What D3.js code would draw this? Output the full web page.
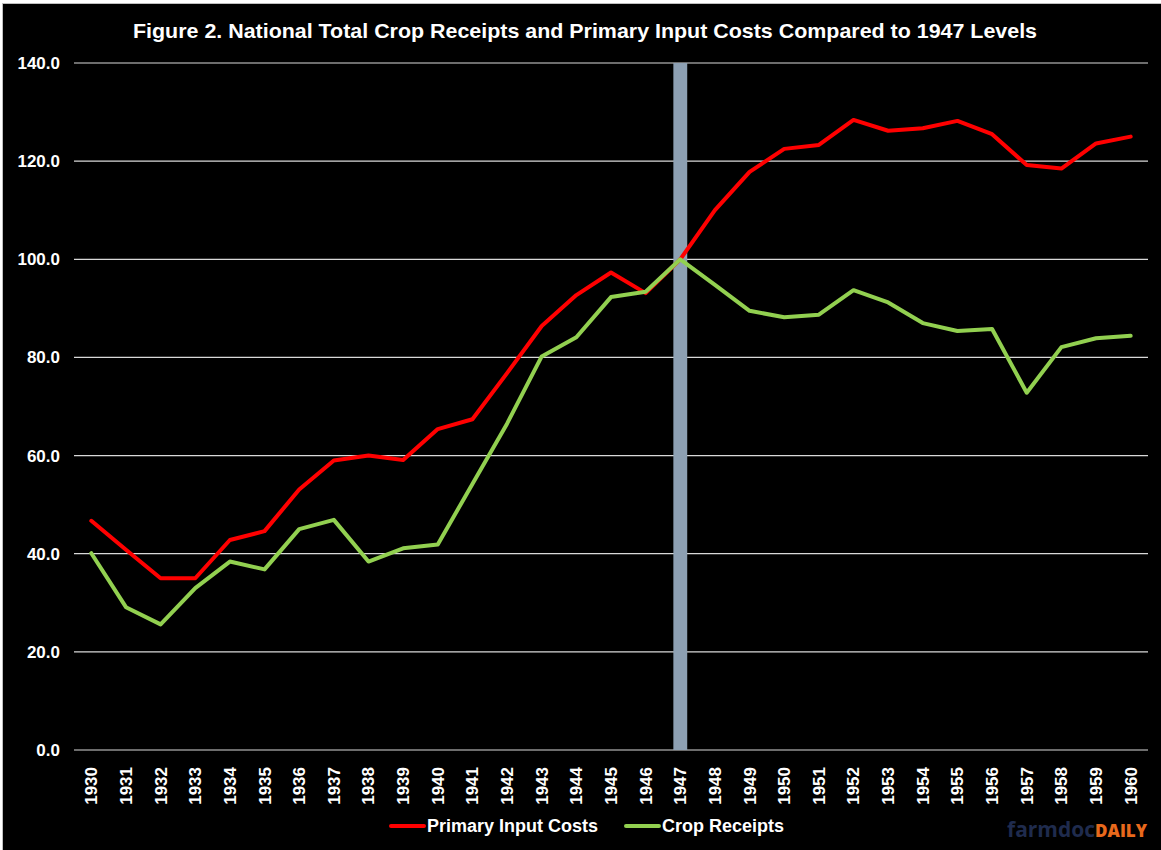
<!DOCTYPE html>
<html>
<head>
<meta charset="utf-8">
<script src="https://cdn.jsdelivr.net/npm/d3@7"></script>
<style>
  body { margin: 0; background: #fff; }
  svg { display: block; font-family: "Liberation Sans", Arial, sans-serif; }
</style>
</head>
<body>
<svg id="chart" width="1161" height="850"></svg>
<script>
const years = d3.range(1930, 1961).map(String);
const inputCosts = [46.7, 40.8, 35.0, 35.0, 42.8, 44.6, 53.1, 59.0, 60.0, 59.1,
  65.4, 67.4, 76.8, 86.4, 92.7, 97.3, 93.1, 100.0, 110.0, 117.8,
  122.5, 123.3, 128.4, 126.2, 126.7, 128.2, 125.5, 119.2, 118.5, 123.6, 125.0];
const cropReceipts = [40.1, 29.1, 25.6, 33.0, 38.4, 36.8, 45.0, 46.9, 38.4, 41.1,
  41.9, 54.2, 66.5, 80.2, 84.1, 92.3, 93.4, 100.0, 94.8, 89.5,
  88.2, 88.7, 93.7, 91.2, 87.0, 85.4, 85.8, 72.8, 82.1, 83.9, 84.4];
const yTicks = [0, 20, 40, 60, 80, 100, 120, 140];
const baseYear = '1947';

const width = 1161, height = 850;
const margin = { top: 63, right: 13, bottom: 100, left: 74 };

const svg = d3.select('#chart');

/* background frame */
svg.append('rect')
  .attr('x', 2.5).attr('y', 3.5)
  .attr('width', width).attr('height', height)
  .attr('fill', '#000')
  .attr('stroke', '#bfbfbf')
  .attr('stroke-width', 1);

const x = d3.scaleBand()
  .domain(years)
  .range([margin.left, width - margin.right]);

const y = d3.scaleLinear()
  .domain([0, 140])
  .range([height - margin.bottom, margin.top]);

/* title */
svg.append('text')
  .attr('x', 133)
  .attr('y', 38)
  .attr('fill', '#fff')
  .attr('textLength', 904)
  .attr('lengthAdjust', 'spacingAndGlyphs')
  .style('font-size', '20.5px')
  .style('font-weight', 'bold')
  .text('Figure 2. National Total Crop Receipts and Primary Input Costs Compared to 1947 Levels');

/* gridlines */
svg.append('g')
  .selectAll('line')
  .data(yTicks).enter()
  .append('line')
  .attr('x1', margin.left)
  .attr('x2', width - margin.right)
  .attr('y1', d => y(d))
  .attr('y2', d => y(d))
  .attr('stroke', '#d9d9d9')
  .attr('stroke-width', 1.2);

/* 1947 bar */
const barW = x.bandwidth() * 0.4;
svg.append('rect')
  .attr('x', x(baseYear) + (x.bandwidth() - barW) / 2)
  .attr('y', y(140))
  .attr('width', barW)
  .attr('height', y(0) - y(140))
  .attr('fill', '#8da0b3');

/* y axis */
const yAxis = d3.axisLeft(y)
  .tickValues(yTicks)
  .tickFormat(d3.format('.1f'))
  .tickSize(0)
  .tickPadding(14);
const yG = svg.append('g')
  .attr('transform', `translate(${margin.left}, 0)`)
  .call(yAxis);
yG.select('.domain').remove();
yG.selectAll('text')
  .attr('fill', '#fff')
  .style('font-size', '17px')
  .style('font-weight', 'bold')
  .style('font-family', '"Liberation Sans", Arial, sans-serif');

/* x axis */
const xAxis = d3.axisBottom(x).tickSize(0);
const xG = svg.append('g')
  .attr('transform', `translate(0, ${y(0)})`)
  .call(xAxis);
xG.select('.domain').remove();
xG.selectAll('text')
  .attr('fill', '#fff')
  .style('font-size', '17px')
  .style('font-weight', 'bold')
  .style('font-family', '"Liberation Sans", Arial, sans-serif')
  .attr('transform', 'rotate(-90)')
  .attr('text-anchor', 'end')
  .attr('x', -17)
  .attr('y', 0)
  .attr('dy', '0.35em');

/* lines */
const line = d3.line()
  .x((d, i) => x(years[i]) + x.bandwidth() / 2)
  .y(d => y(d));

svg.append('path')
  .datum(inputCosts)
  .attr('fill', 'none')
  .attr('stroke', '#ff0000')
  .attr('stroke-width', 4)
  .attr('stroke-linejoin', 'round')
  .attr('stroke-linecap', 'round')
  .attr('d', line);

svg.append('path')
  .datum(cropReceipts)
  .attr('fill', 'none')
  .attr('stroke', '#92d050')
  .attr('stroke-width', 4)
  .attr('stroke-linejoin', 'round')
  .attr('stroke-linecap', 'round')
  .attr('d', line);

/* legend */
const legendItems = [
  { name: 'Primary Input Costs', color: '#ff0000', x: 391 },
  { name: 'Crop Receipts', color: '#92d050', x: 626 }
];
const legend = svg.append('g').attr('class', 'legend');
legendItems.forEach(item => {
  legend.append('line')
    .attr('x1', item.x).attr('x2', item.x + 33)
    .attr('y1', 826).attr('y2', 826)
    .attr('stroke', item.color)
    .attr('stroke-width', 4)
    .attr('stroke-linecap', 'round');
  legend.append('text')
    .attr('x', item.x + 36)
    .attr('y', 832)
    .attr('fill', '#fff')
    .style('font-size', '18px')
    .style('font-weight', 'bold')
    .text(item.name);
});

/* logo */
const logo = svg.append('text')
  .attr('x', 1147)
  .attr('y', 837)
  .attr('text-anchor', 'end')
  .style('font-family', '"Open Sans", "DejaVu Sans", sans-serif')
  .style('font-weight', 'bold');
logo.append('tspan')
  .attr('fill', '#1f2b4d')
  .style('font-size', '21px')
  .text('farmdoc');
logo.append('tspan')
  .attr('fill', '#e8691c')
  .style('font-size', '17px')
  .style('font-weight', '800')
  .text('DAILY');
</script>
</body>
</html>
